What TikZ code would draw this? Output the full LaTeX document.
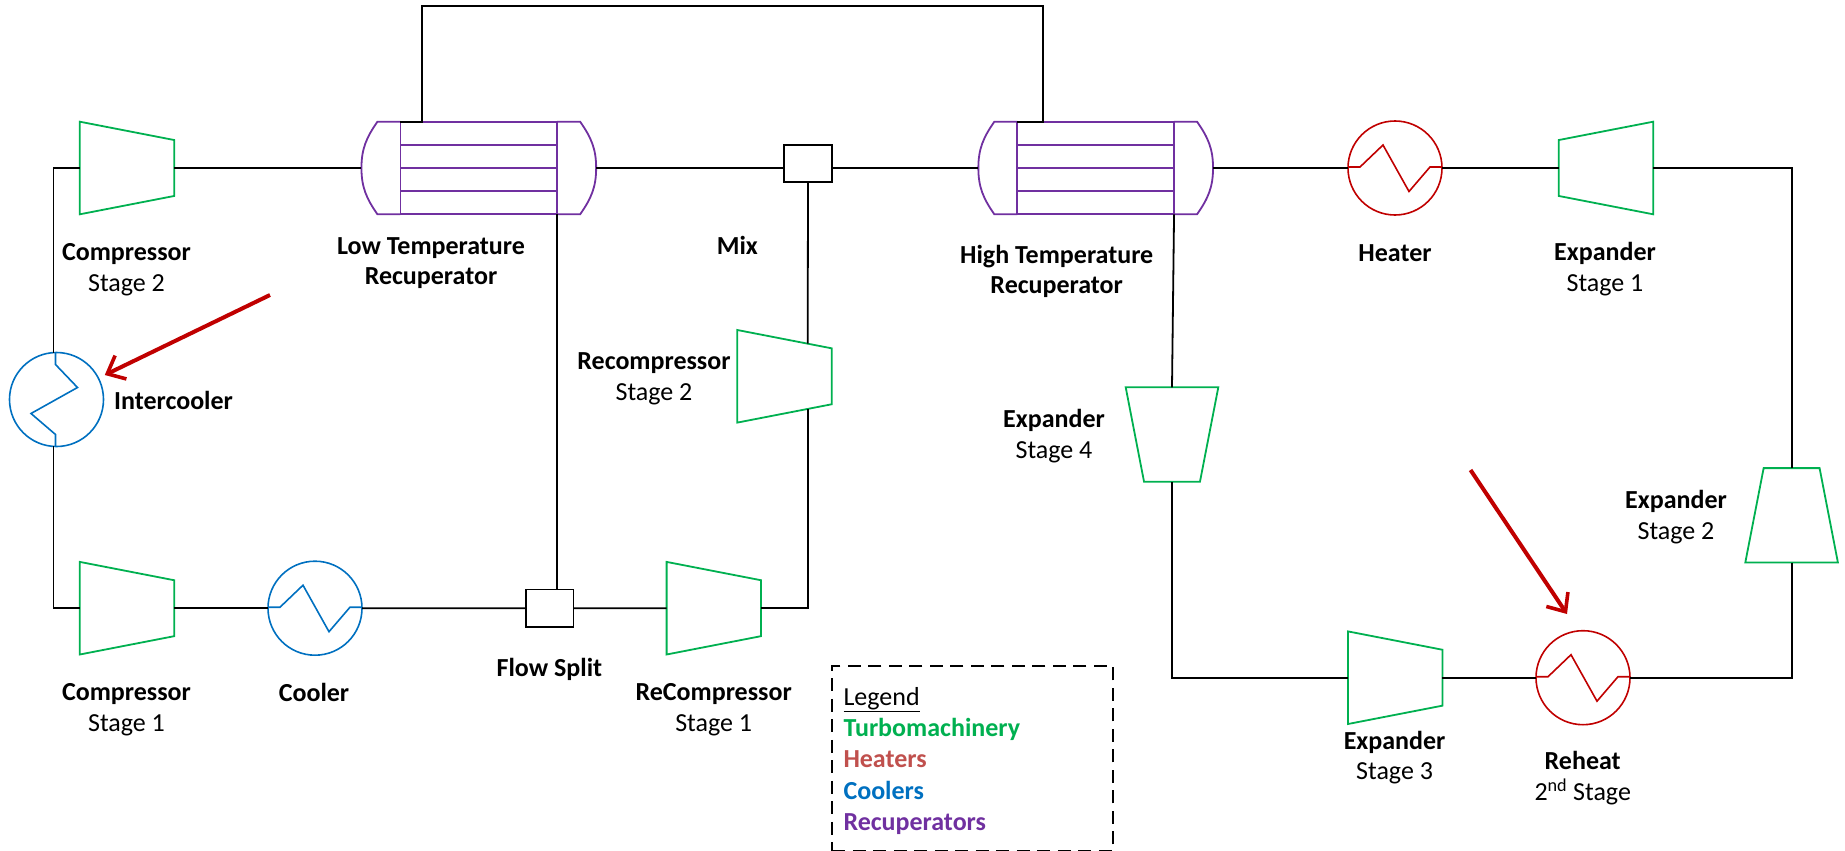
\documentclass[tikz,border=0pt]{standalone}
\usepackage{fontspec}
\setmainfont{Carlito}
\usepackage{xcolor}
\usetikzlibrary{arrows.meta, calc, positioning}

\definecolor{turbogreen}{HTML}{00B050}
\definecolor{heatred}{HTML}{C00000}
\definecolor{legendred}{HTML}{C0504D}
\definecolor{coolblue}{HTML}{0070C0}
\definecolor{recuppurple}{HTML}{7030A0}

\tikzset{
    pipe/.style={black, line width=1.8pt},
    turbobox/.style={minimum width=94.4pt, minimum height=92.6pt, inner sep=0pt, outer sep=0pt},
    turboline/.style={turbogreen, line width=1.8pt, line join=miter},
    exchanger/.style={circle, line width=1.6pt, minimum size=94pt, inner sep=0pt, outer sep=0pt},
    heater/.style={exchanger, draw=heatred},
    cooler/.style={exchanger, draw=coolblue},
    junction/.style={draw=black, line width=1.8pt, minimum width=47.4pt, minimum height=37.6pt, inner sep=0pt, outer sep=0pt},
    recup/.style={draw=recuppurple, line width=1.8pt, minimum width=156.7pt, minimum height=92.6pt, inner sep=0pt, outer sep=0pt},
    recupline/.style={recuppurple, line width=1.8pt},
    txt/.style={font=\fontsize{26}{30.5}\selectfont, align=center, inner sep=0pt},
    legendtxt/.style={font=\fontsize{26}{31}\selectfont\bfseries, inner sep=0pt, text height=15pt, text depth=5pt},
    callout/.style={heatred, line width=4pt, -{Straight Barb[length=15pt, width=26pt, line width=3.6pt]}},
    pics/coil/.style={code={\draw[line width=1.6pt, #1] (-47,-1) -- (-35,-1) -- (-12,-23) -- (14,23.5) -- (35,-1) -- (47,-1);}},
}

% wide side is .west, narrow side is .east
\newcommand{\turbine}[3]{
    \node[turbobox, rotate=#3] (#1) at (#2) {};
    \draw[turboline] (#1.north west) -- ($(#1.north east)!0.198!(#1.south east)$) -- ($(#1.south east)!0.198!(#1.north east)$) -- (#1.south west) -- cycle;
}

% tube bundle with the two end caps
\newcommand{\recuperator}[2]{
    \node[recup] (#1) at (#2) {};
    \foreach \yy in {-23.2, 0, 23.2} {
        \draw[recupline] ([yshift=-\yy pt]#1.west) -- ([yshift=-\yy pt]#1.east);
    }
    \coordinate (#1in) at ([shift={(-39,0)}]#1.west);
    \coordinate (#1out) at ([shift={(39,0)}]#1.east);
    \draw[recupline] (#1.north west) -- ++(-23,0) to[out=-125, in=90] (#1in) to[out=-90, in=125] ([shift={(-23,0)}]#1.south west) -- (#1.south west);
    \draw[recupline] (#1.north east) -- ++(23,0) to[out=-55, in=90] (#1out) to[out=-90, in=55] ([shift={(23,0)}]#1.south east) -- (#1.south east);
}

\begin{document}
\begin{tikzpicture}[x=1pt, y=-1pt, node distance=31pt]
    \useasboundingbox (0,0) rectangle (1845,851);

    % turbomachinery
    \turbine{comp2}{127,168}{0}
    \turbine{comp1}{127,608.2}{0}
    \turbine{recomp1}{713.8,608.2}{0}
    \turbine{recomp2}{784.5,376.3}{0}
    \turbine{exp1}{1606,168}{180}
    \turbine{exp2}{1791.6,515.3}{90}
    \turbine{exp3}{1395.2,677.7}{0}
    \turbine{exp4}{1172,434.5}{-90}

    % heaters and coolers
    \node[heater] (heat) at (1395,168) {};
    \node[heater] (reheat) at (1583,677.7) {};
    \node[cooler] (cool) at (315,608.2) {};
    \node[cooler] (icool) at (56.5,399.5) {};
    \pic at (heat.center) {coil=heatred};
    \pic at (reheat.center) {coil=heatred};
    \pic at (cool.center) {coil=coolblue};
    \pic[rotate=-90] at ([xshift=-2pt]icool.center) {coil=coolblue};

    % recuperators
    \recuperator{ltr}{478.8,168}
    \recuperator{htr}{1095.7,168}

    % mixing and splitting
    \node[junction] (mix) at (808,163.5) {};
    \node[junction] (split) at (549.7,608.3) {};

    % free ends of the pipes
    \coordinate (ictop) at (53.4,353);
    \coordinate (icbot) at (53.4,446);
    \coordinate (ltrup) at (422,121.7);
    \coordinate (htrup) at (1042.7,121.7);
    \coordinate (topl) at (422,6);
    \coordinate (topr) at (1042.7,6);
    \coordinate (recomptop) at (807.7,343.7);
    \coordinate (recompbot) at (807.7,408.6);

    \draw[pipe] (comp2.east) -- (ltrin);
    \draw[pipe] (comp2.west) -| (ictop);
    \draw[pipe] (comp1.west) -| (icbot);
    \draw[pipe] (comp1.east) -- (cool.west);
    \draw[pipe] (cool.east) -- (split.west);
    \draw[pipe] (split.east) -- (recomp1.west);
    \draw[pipe] (recomp1.east) -| (recompbot);
    \draw[pipe] (mix.south) -- (recomptop);
    \draw[pipe] (ltrout) -- (ltrout -| mix.west);
    \draw[pipe] (ltrout -| mix.east) -- (htrin);
    \draw[pipe] (ltr.south east) -- (ltr.south east |- split.north);
    \draw[pipe] (ltr.north west) -- (ltrup) -- (topl) -- (topr) -- (htrup) -- (htr.north west);
    \draw[pipe] (htrout) -- (heat.west);
    \draw[pipe] (heat.east) -- (exp1.east);
    \draw[pipe] (exp1.west) -| (exp2.east);
    \draw[pipe] (exp2.west) |- (reheat.east);
    \draw[pipe] (reheat.west) -- (exp3.east);
    \draw[pipe] (exp3.west) -| (exp4.east);
    \draw[pipe] (htr.south east) -- (exp4.west);

    % labels
    \node[txt] (lcomp2) at (126.5,269.7) {\textbf{Compressor}\\Stage 2};
    \node[txt] (lcomp1) at (126.5,709.8) {\textbf{Compressor}\\Stage 1};
    \node[txt] (lrecomp1) at (713.7,709.8) {\textbf{ReCompressor}\\Stage 1};
    \node[txt] (lrecomp2) at (654,378.7) {\textbf{Recompressor}\\Stage 2};
    \node[txt] (lcool) at (314,692.7) {\textbf{Cooler}};
    \node[txt] (lsplit) at (549.4,669.3) {\textbf{Flow Split}};
    \node[txt] (lmix) at (737.3,245.3) {\textbf{Mix}};
    \node[txt, anchor=west] (licool) at (114,400.7) {\textbf{Intercooler}};
    \node[txt] (lltr) at (431,263.2) {\textbf{Low Temperature}\\\textbf{Recuperator}};
    \node[txt] (lhtr) at (1056.7,271.2) {\textbf{High Temperature}\\\textbf{Recuperator}};
    \node[txt] (lheat) at (1395,253) {\textbf{Heater}};
    \node[txt] (lexp1) at (1605,269) {\textbf{Expander}\\Stage 1};
    \node[txt] (lexp2) at (1676,517) {\textbf{Expander}\\Stage 2};
    \node[txt] (lexp3) at (1394.6,757.7) {\textbf{Expander}\\Stage 3};
    \node[txt] (lexp4) at (1054,436) {\textbf{Expander}\\Stage 4};
    \node[txt] (lreheat) at (1582.7,778) {\textbf{Reheat}\\2\textsuperscript{nd} Stage};

    % callouts
    \coordinate (callic0) at (270,295);
    \coordinate (callic1) at (104.8,375);
    \coordinate (callre0) at (1470.5,470);
    \coordinate (callre1) at (1567,614);
    \draw[callout] (callic0) -- (callic1);
    \draw[callout] (callre0) -- (callre1);

    % legend
    \node[draw, dash pattern=on 13pt off 7.5pt, line width=1.8pt, minimum width=280.7pt, minimum height=184.7pt, inner sep=0pt] (legendbox) at (972.7,758.4) {};
    \node[legendtxt, anchor=west, font=\fontsize{26}{31}\selectfont] (leg0) at (843.3,700) {\underline{Legend}};
    \node[legendtxt, below=11pt of leg0.south west, anchor=north west, text=turbogreen] (leg1) {Turbomachinery};
    \node[legendtxt, below=11pt of leg1.south west, anchor=north west, text=legendred] (leg2) {Heaters};
    \node[legendtxt, below=11pt of leg2.south west, anchor=north west, text=coolblue] (leg3) {Coolers};
    \node[legendtxt, below=11pt of leg3.south west, anchor=north west, text=recuppurple] (leg4) {Recuperators};
\end{tikzpicture}
\end{document}
